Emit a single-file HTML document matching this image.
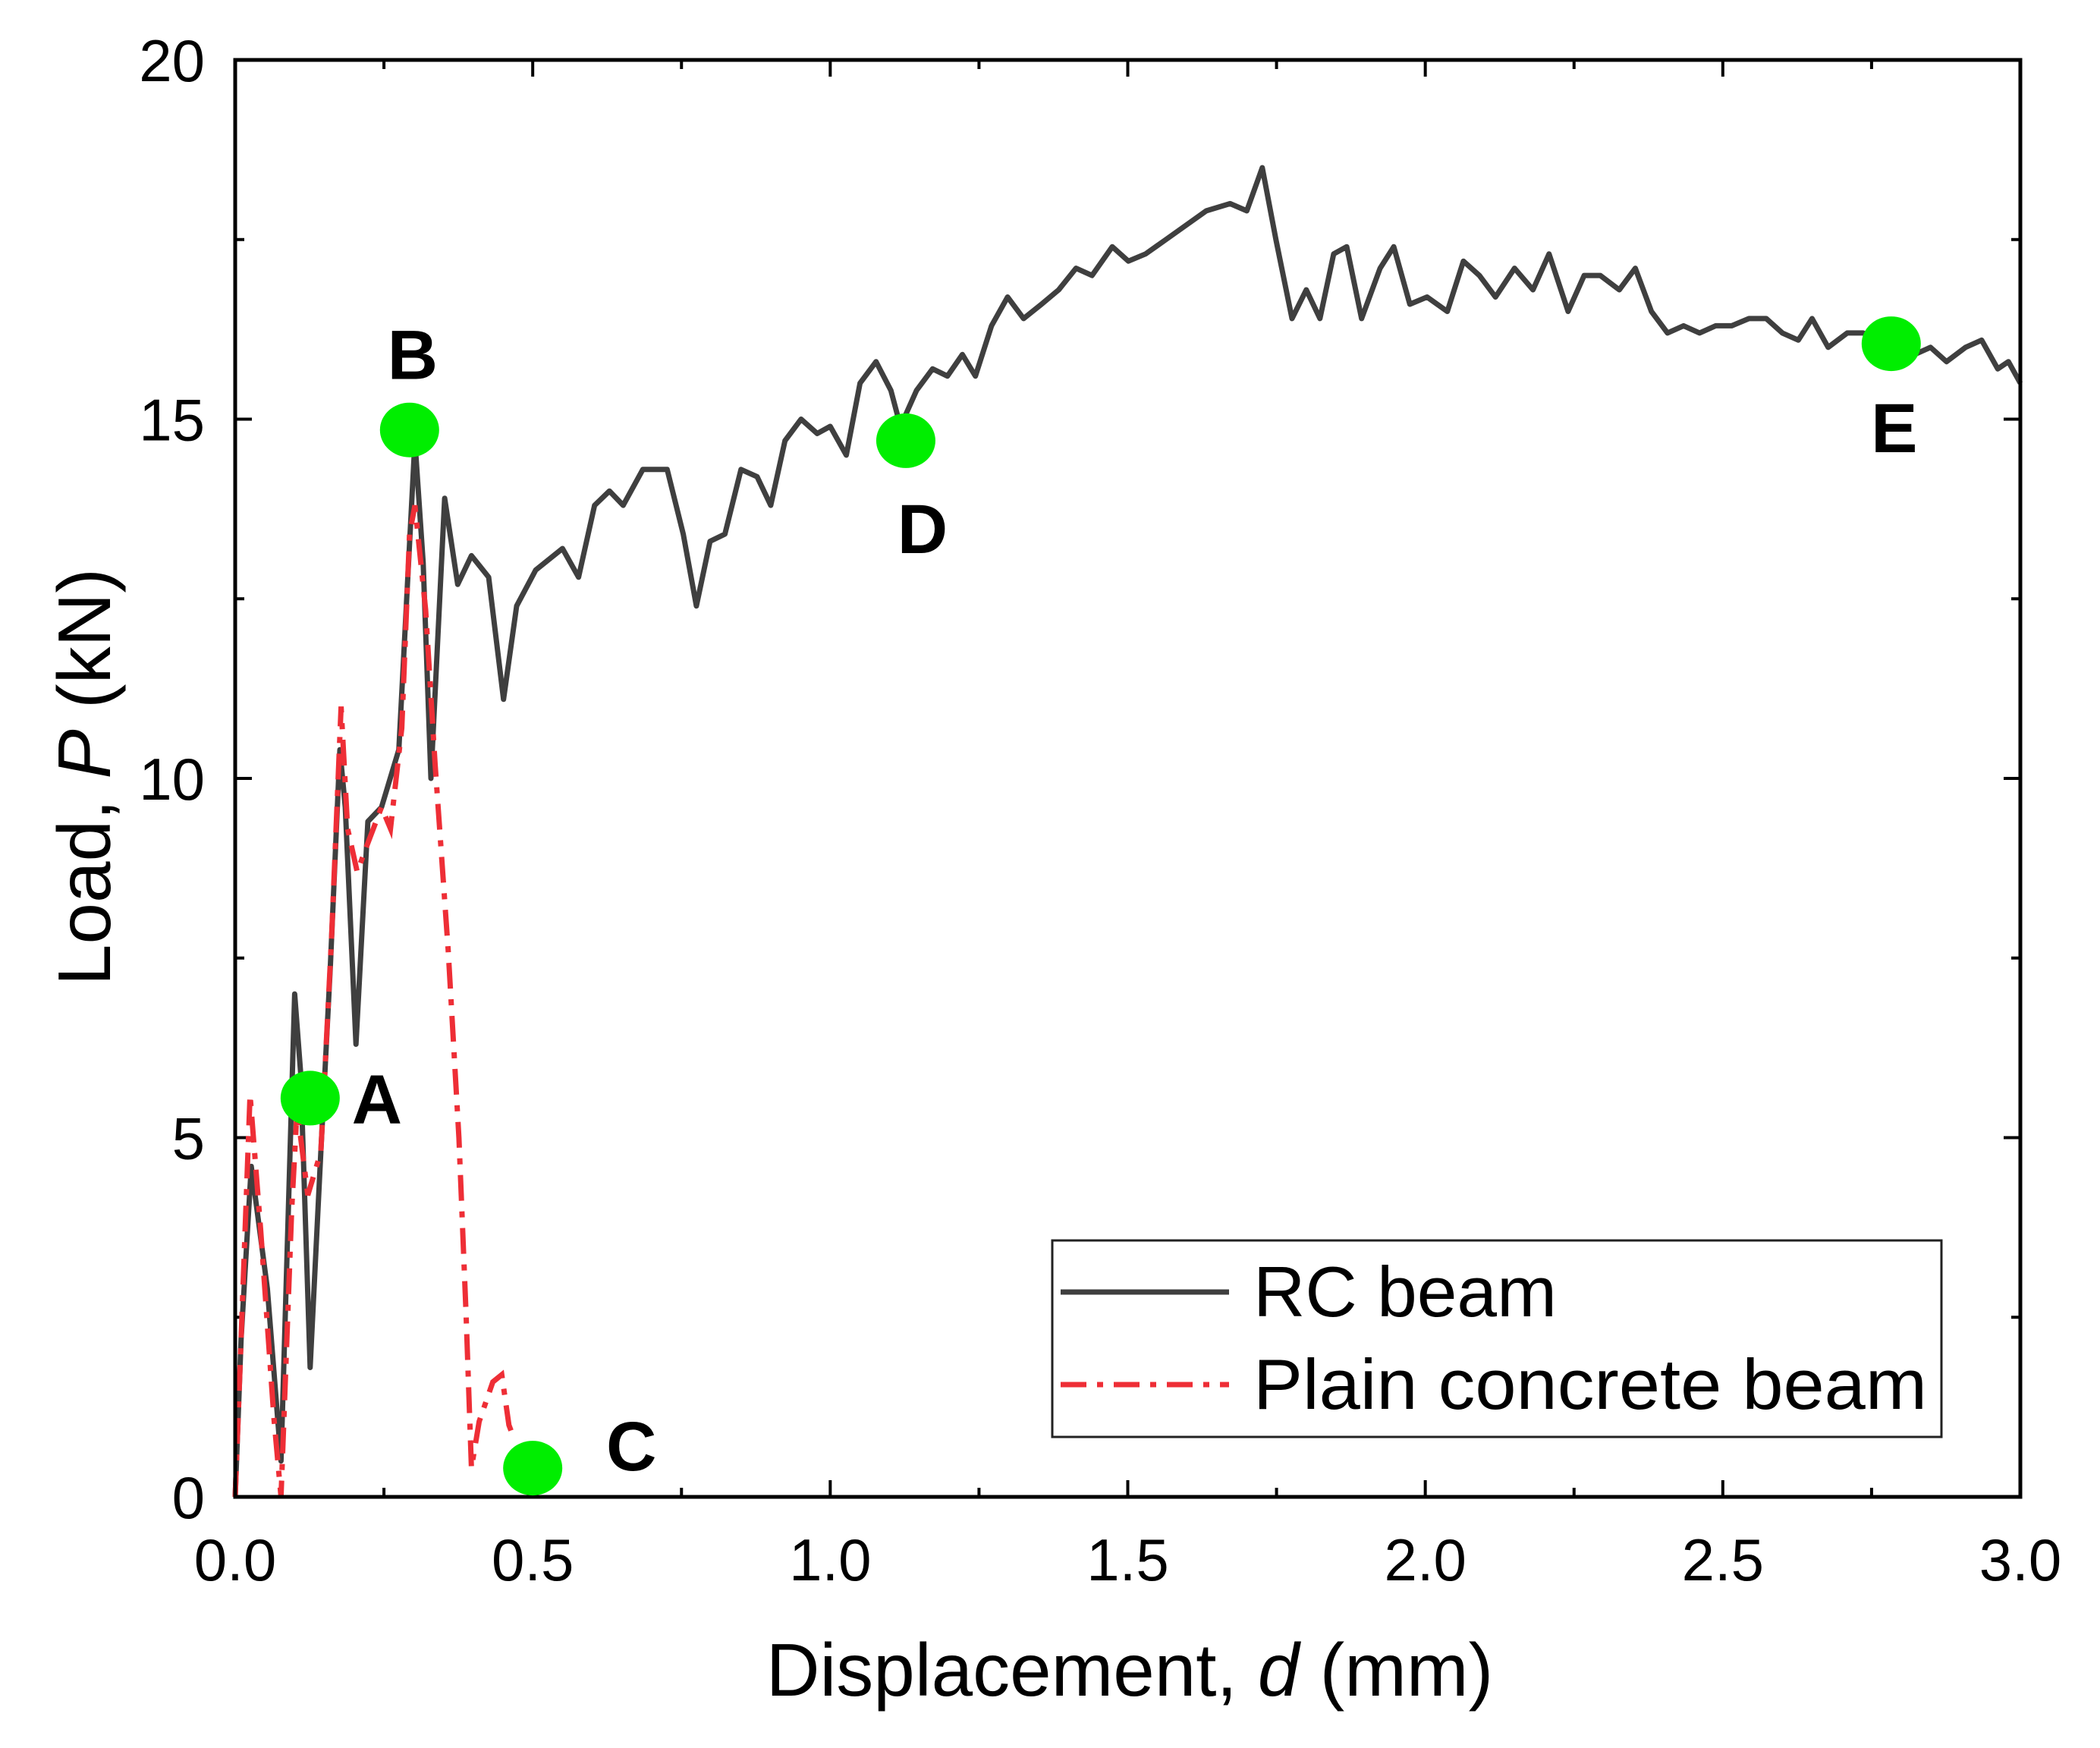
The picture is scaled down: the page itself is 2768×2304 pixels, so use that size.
<!DOCTYPE html>
<html><head><meta charset="utf-8"><style>
html,body{margin:0;padding:0;background:#fff;}
svg{display:block;font-family:"Liberation Sans",Arial,sans-serif;}
</style></head><body>
<svg id="chart" width="2768" height="2304" viewBox="0 0 2768 2304" xmlns="http://www.w3.org/2000/svg"></svg>
<script>
const rcX=[0,0.01,0.027,0.054,0.077,0.1,0.11,0.126,0.144,0.16,0.176,0.185,0.203,0.223,0.246,0.275,0.302,0.316,0.329,0.352,0.374,0.397,0.426,0.451,0.473,0.505,0.55,0.577,0.604,0.629,0.652,0.685,0.726,0.753,0.775,0.798,0.823,0.85,0.877,0.9,0.924,0.951,0.978,1.0,1.027,1.05,1.077,1.102,1.118,1.145,1.172,1.197,1.222,1.244,1.271,1.298,1.325,1.355,1.384,1.413,1.44,1.474,1.501,1.53,1.564,1.598,1.632,1.672,1.7,1.726,1.749,1.776,1.8,1.823,1.846,1.868,1.893,1.924,1.947,1.974,2.003,2.037,2.064,2.091,2.118,2.15,2.181,2.208,2.24,2.267,2.294,2.326,2.353,2.38,2.407,2.434,2.461,2.488,2.515,2.544,2.573,2.6,2.627,2.65,2.677,2.709,2.736,2.763,2.793,2.822,2.849,2.876,2.908,2.935,2.962,2.98,3.0];
const rcY=[0,2.2,4.6,2.9,0.5,7.0,5.9,1.8,4.8,7.4,10.4,9.6,6.3,9.4,9.6,10.4,14.7,13.0,10.0,13.9,12.7,13.1,12.8,11.1,12.4,12.9,13.2,12.8,13.8,14.0,13.8,14.3,14.3,13.4,12.4,13.3,13.4,14.3,14.2,13.8,14.7,15.0,14.8,14.9,14.5,15.5,15.8,15.4,14.9,15.4,15.7,15.6,15.9,15.6,16.3,16.7,16.4,16.6,16.8,17.1,17.0,17.4,17.2,17.3,17.5,17.7,17.9,18.0,17.9,18.5,17.5,16.4,16.8,16.4,17.3,17.4,16.4,17.1,17.4,16.6,16.7,16.5,17.2,17.0,16.7,17.1,16.8,17.3,16.5,17.0,17.0,16.8,17.1,16.5,16.2,16.3,16.2,16.3,16.3,16.4,16.4,16.2,16.1,16.4,16.0,16.2,16.2,16.1,16.0,15.9,16.0,15.8,16.0,16.1,15.7,15.8,15.5];
const pcX=[0,0.01,0.025,0.043,0.065,0.077,0.095,0.104,0.122,0.144,0.162,0.178,0.189,0.205,0.223,0.246,0.261,0.28,0.293,0.302,0.32,0.336,0.358,0.376,0.388,0.397,0.41,0.433,0.448,0.46,0.469];
const pcY=[0,2.2,5.6,3.7,1.1,0,4.0,5.4,4.2,4.8,7.8,11.0,9.3,8.7,9.1,9.6,9.3,10.7,13.4,13.8,12.35,10.2,7.6,5.0,2.55,0.4,1.05,1.6,1.7,1.0,0.8];
const markerLabels=["A","B","C","D","E"];
const markerX=[0.126,0.293,0.5,1.127,2.783];
const markerY=[5.55,14.85,0.4,14.7,16.05];
const xTicks=[0,0.5,1.0,1.5,2.0,2.5,3.0];
const xTickLabels=["0.0","0.5","1.0","1.5","2.0","2.5","3.0"];
const yTicks=[0,5,10,15,20];
const yTickLabels=["0","5","10","15","20"];

const L=310,R=2663,T=79,B=1973;
const sx=v=>L+(v-0)/(3-0)*(R-L);
const sy=v=>B-(v-0)/(20-0)*(B-T);
const svg=document.getElementById('chart');
const NS='http://www.w3.org/2000/svg';
function mk(tag,attrs,parent){const e=document.createElementNS(NS,tag);for(const k in attrs)e.setAttribute(k,attrs[k]);(parent||svg).appendChild(e);return e;}

const tg=mk('g',{});


for(let i=0;i<=12;i++){const v=i*0.25,x=sx(v),len=(i%2===0)?22:12;
 mk('line',{x1:x,y1:B,x2:x,y2:B-len,stroke:'#000','stroke-width':4},tg);
 mk('line',{x1:x,y1:T,x2:x,y2:T+len,stroke:'#000','stroke-width':4},tg);}
for(let i=0;i<=8;i++){const v=i*2.5,y=sy(v),len=(i%2===0)?22:12;
 mk('line',{x1:L,y1:y,x2:L+len,y2:y,stroke:'#000','stroke-width':4},tg);
 mk('line',{x1:R,y1:y,x2:R-len,y2:y,stroke:'#000','stroke-width':4},tg);}

xTicks.forEach((v,i)=>{const t=mk('text',{x:sx(v),y:2083,'text-anchor':'middle','font-size':78,fill:'#000'});t.textContent=xTickLabels[i];

});
yTicks.forEach((v,i)=>{const t=mk('text',{x:270,y:sy(v)+28,'text-anchor':'end','font-size':78,fill:'#000'});t.textContent=yTickLabels[i];

});

function path(xs,ys){return xs.map((x,i)=>(i?'L':'M')+sx(x).toFixed(1)+','+sy(ys[i]).toFixed(1)).join(' ');}
const rc=mk('path',{d:path(rcX,rcY),fill:'none',stroke:'#3f3f3f','stroke-width':7,'stroke-linejoin':'round'});


const pc=mk('path',{d:path(pcX,pcY),fill:'none',stroke:'#ee2e36','stroke-width':7,'stroke-dasharray':'34,14,8,14'});



const fr=mk('rect',{x:L,y:T,width:R-L,height:B-T,fill:'none',stroke:'#000','stroke-width':5});



const labOff=[[88,0],[4,-100],[130,-30],[22,115],[4,110]];
markerX.forEach((v,i)=>{const c=mk('ellipse',{cx:sx(v),cy:sy(markerY[i]),rx:39,ry:36,fill:'#00ee00'});


const t=mk('text',{x:sx(v)+labOff[i][0],y:sy(markerY[i])+labOff[i][1]+33,'text-anchor':'middle','font-size':92,'font-weight':'bold',fill:'#000'});
t.textContent=markerLabels[i];

});

const lg=mk('g',{});


mk('rect',{x:1387,y:1635,width:1172,height:259,fill:'#fff',stroke:'#222','stroke-width':3},lg);
mk('line',{x1:1398,y1:1703,x2:1620,y2:1703,stroke:'#3f3f3f','stroke-width':7},lg);
mk('line',{x1:1398,y1:1825,x2:1620,y2:1825,stroke:'#ee2e36','stroke-width':7,'stroke-dasharray':'34,14,8,14'},lg);
const t1=mk('text',{x:1652,y:1735,'font-size':94,fill:'#000',textLength:400,lengthAdjust:'spacingAndGlyphs'},lg);t1.textContent='RC beam';


const t2=mk('text',{x:1652,y:1857,'font-size':94,fill:'#000',textLength:888,lengthAdjust:'spacingAndGlyphs'},lg);t2.textContent='Plain concrete beam';



const xt=mk('text',{x:1489,y:2235,'text-anchor':'middle','font-size':98,fill:'#000'});
xt.innerHTML='Displacement, <tspan font-style="italic">d</tspan> (mm)';


const yt=mk('text',{x:0,y:0,'text-anchor':'middle','font-size':98,fill:'#000',transform:'translate(145,1024) rotate(-90)'});
yt.innerHTML='Load, <tspan font-style="italic">P</tspan> (kN)';


</script>
</body></html>
